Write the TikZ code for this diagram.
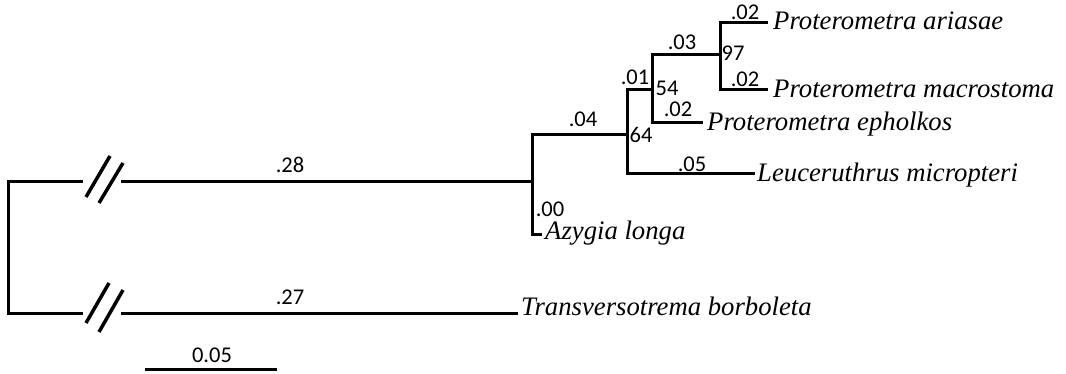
\documentclass[tikz,border=0pt]{standalone}
\usepackage{fontspec}
\setmainfont{Liberation Serif}
\newfontfamily\numfont{Carlito}
\begin{document}
\begin{tikzpicture}[x=1pt,y=-1pt,
  br/.style={line width=3pt,line join=miter},
  slash/.style={line width=3.5pt},
  sp/.style={font=\fontsize{26.7}{30}\selectfont\itshape,anchor=base west,inner sep=0pt},
  num/.style={font=\numfont\fontsize{22.5}{26}\selectfont,inner sep=0pt}]
\useasboundingbox (0,0) rectangle (1066,374);
% internal coordinates
\coordinate (rt) at (8,182);
\coordinate (rb) at (8,313);
\coordinate (b1l) at (83,182);
\coordinate (b1r) at (121,182);
\coordinate (b2l) at (83,313);
\coordinate (b2r) at (121,313);
\coordinate (n1) at (532,182);
\coordinate (n2) at (627,135);
\coordinate (n3) at (652,90);
\coordinate (n4) at (720,55);
% tips
\coordinate (tTra) at (518,313);
\coordinate (tAzy) at (542,235);
\coordinate (tLeu) at (755,174);
\coordinate (tEph) at (703,123);
\coordinate (tAri) at (768,23);
\coordinate (tMac) at (768,90);
% species labels
\node[sp] (Tra) at ([xshift=3pt,yshift=-3pt]tTra) {Transversotrema borboleta};
\node[sp] (Azy) at ([xshift=3pt,yshift=-5pt]tAzy) {Azygia longa};
\node[sp] (Leu) at ([xshift=2pt,yshift=-8pt]tLeu) {Leuceruthrus micropteri};
\node[sp] (Eph) at ([xshift=4pt,yshift=-8pt]tEph) {Proterometra epholkos};
\node[sp] (Ari) at ([xshift=5pt,yshift=-7pt]tAri) {Proterometra ariasae};
\node[sp] (Mac) at ([xshift=5pt,yshift=-8pt]tMac) {Proterometra macrostoma};
% branches
\draw[br] (b1l) -| (rb) -- (b2l);
\draw[br] (b1r) -- (n1);
\draw[br] (b2r) -- (tTra);
\draw[br] (n1) |- (n2);
\draw[br] (n1) |- (tAzy);
\draw[br] (n2) |- (n3);
\draw[br] (n2) |- (tLeu);
\draw[br] (n3) |- (n4);
\draw[br] (n3) |- (tEph);
\draw[br] (n4) |- (tAri);
\draw[br] (n4) |- (tMac);
% break marks
\draw[slash] (86,197) -- (110,156);
\draw[slash] (99,203) -- (123,163);
\draw[slash] (86,323) -- (109,283);
\draw[slash] (99,332) -- (123,290);
% branch lengths and support
\node[num] (l28) at (290,165) {.28};
\node[num] (l27) at (290,297) {.27};
\node[num] (l00) at (550,209) {.00};
\node[num] (l04) at (583,119) {.04};
\node[num] (s64) at (641,135) {64};
\node[num] (l05) at (692,164) {.05};
\node[num] (l01) at (635,77) {.01};
\node[num] (s54) at (667,88) {54};
\node[num] (l02e) at (678,109) {.02};
\node[num] (l03) at (682,42) {.03};
\node[num] (s97) at (733,53) {97};
\node[num] (l02a) at (745,12) {.02};
\node[num] (l02m) at (745,79) {.02};
% scale bar
\coordinate (sbl) at (145,369);
\coordinate (sbr) at (277,369);
\draw[br] (sbl) -- (sbr);
\node[num] (sb) at (212,355) {0.05};
\end{tikzpicture}
\end{document}
